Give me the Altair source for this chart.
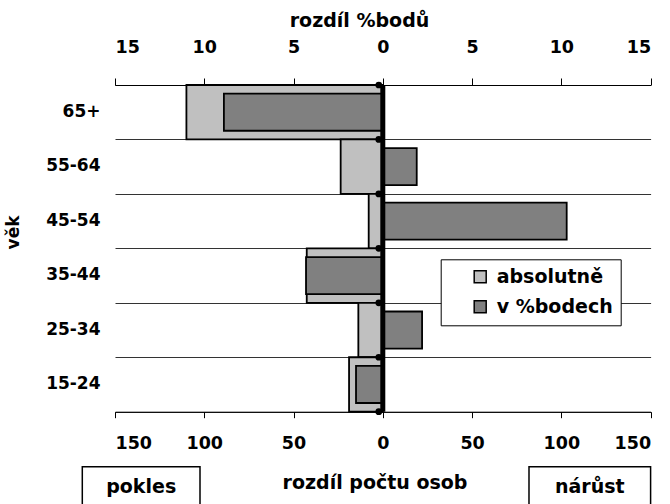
import altair as alt
import pandas as pd

# Age groups, top to bottom
vek = ["65+", "55-64", "45-54", "35-44", "25-34", "15-24"]
# Change in number of persons (bottom axis)
absolutne = [-110, -23.6, -7.9, -42.6, -13.7, -18.9]
# Change in percentage points (top axis)
v_bodech = [-8.9, 1.9, 10.3, -4.3, 2.2, -1.5]

serie = ["absolutně", "v %bodech"]
barvy = ["#C0C0C0", "#808080"]

abs_ticks = [-150, -100, -50, 0, 50, 100, 150]
pct_ticks = [-15, -10, -5, 0, 5, 10, 15]

FONT = "DejaVu Sans"
W, H = 535.6, 326.7

df = pd.DataFrame({"vek": vek, "absolutne": absolutne, "v_bodech": v_bodech})
nula = pd.DataFrame({"nula": [0]})

y_axis = alt.Axis(
    orient="left", title="věk", titleAngle=-90, titleX=-102, titleY=147,
    titleBaseline="middle", titleFont=FONT, titleFontSize=17, titleFontWeight="bold",
    titleColor="black",
    labelFont=FONT, labelFontSize=17, labelFontWeight="bold", labelColor="black",
    labelPadding=15, labelOffset=-1, ticks=False, domain=False,
    grid=True, tickBand="extent", gridColor="#333333", gridWidth=1,
)
y_scale = alt.Scale(paddingInner=0, paddingOuter=0)


def y_enc(band_pos=None):
    if band_pos is None:
        return alt.Y("vek:N", sort=vek, scale=y_scale, axis=y_axis)
    return alt.Y("vek:N", sort=vek, scale=y_scale, axis=y_axis, bandPosition=band_pos)


legend = alt.Legend(
    orient="none", legendX=325.7, legendY=174.3, title=None,
    symbolType="square", symbolSize=144, symbolStrokeColor="black",
    symbolStrokeWidth=1.5, labelFont=FONT, labelFontSize=19, labelFontWeight="bold",
    labelColor="black", padding=8, rowPadding=10, symbolOffset=22, labelOffset=7,
    strokeColor="black", fillColor="white",
    labelExpr="datum.label + '\u00a0\u00a0'",
)
color = alt.Color("serie:N", scale=alt.Scale(domain=serie, range=barvy), legend=legend)

abs_scale = alt.Scale(domain=[-150, 150], nice=False, zero=False)
pct_scale = alt.Scale(domain=[-15, 15], nice=False, zero=False)

light = alt.Chart(df).transform_calculate(serie="'absolutně'").mark_bar(
    stroke="black", strokeWidth=1.8
).encode(
    x=alt.X("absolutne:Q", scale=abs_scale, axis=alt.Axis(
        orient="bottom", values=abs_ticks, labelExpr="abs(datum.value)",
        title="rozdíl počtu osob", titleX=259.5, titleY=76.6, titleBaseline="alphabetic",
        titleFont=FONT, titleFontSize=19, titleFontWeight="bold", titleColor="black",
        labelFont=FONT, labelFontSize=17.5, labelFontWeight="bold", labelColor="black",
        labelBaseline="alphabetic", labelPadding=31, tickSize=6, tickColor="black",
        domainColor="black", grid=False,
    )),
    y=y_enc(),
    color=color,
)

dark = alt.Chart(df).transform_calculate(serie="'v %bodech'").mark_bar(
    stroke="black", strokeWidth=1.8, height=alt.RelativeBandSize(0.68)
).encode(
    x=alt.X("v_bodech:Q", scale=pct_scale, axis=alt.Axis(
        orient="top", values=pct_ticks, labelExpr="abs(datum.value)",
        title="rozdíl %bodů", titleX=244, titleY=-59, titleBaseline="alphabetic",
        titleFont=FONT, titleFontSize=19, titleFontWeight="bold", titleColor="black",
        labelFont=FONT, labelFontSize=17.5, labelFontWeight="bold", labelColor="black",
        labelBaseline="alphabetic", labelPadding=26, tickSize=7, tickColor="black",
        domainColor="black", grid=False,
    )),
    y=y_enc(),
    color=color,
)

zero_line = alt.Chart(nula).mark_rule(color="black", strokeWidth=5).encode(
    x=alt.X("nula:Q", scale=abs_scale, axis=None)
)

dots_top = alt.Chart(df).transform_calculate(nula="0").mark_circle(
    color="black", opacity=1, size=45, xOffset=-4
).encode(
    x=alt.X("nula:Q", scale=abs_scale, axis=None),
    y=y_enc(0),
)
dots_bottom = alt.Chart(df).transform_filter("datum.vek == '15-24'").transform_calculate(
    nula="0"
).mark_circle(color="black", opacity=1, size=45, xOffset=-4).encode(
    x=alt.X("nula:Q", scale=abs_scale, axis=None),
    y=y_enc(1),
)

# Direction boxes under the bottom axis
box_pokles = alt.Chart(nula).mark_rect(fill="white", stroke="black", strokeWidth=1.5).encode(
    x=alt.value(-32.7), x2=alt.value(85), y=alt.value(381.7), y2=alt.value(430)
)
box_narust = alt.Chart(nula).mark_rect(fill="white", stroke="black", strokeWidth=1.5).encode(
    x=alt.value(414), x2=alt.value(535.6), y=alt.value(381.7), y2=alt.value(430)
)
txt_style = dict(font=FONT, fontSize=19, fontWeight="bold", color="black",
                 align="center", baseline="alphabetic")
txt_pokles = alt.Chart(nula).mark_text(**txt_style).encode(
    x=alt.value(26.2), y=alt.value(408.3), text=alt.value("pokles")
)
txt_narust = alt.Chart(nula).mark_text(**txt_style).encode(
    x=alt.value(474.8), y=alt.value(408.3), text=alt.value("nárůst")
)

chart = alt.layer(
    light, dark, zero_line, dots_top, dots_bottom,
    box_pokles, box_narust, txt_pokles, txt_narust,
).resolve_scale(x="independent").properties(
    width=W, height=H,
    autosize=alt.AutoSizeParams(type="none"),
    padding={"left": 115, "top": 85, "right": 670 - 115 - W, "bottom": 504 - 85 - H},
    background="white",
).configure_view(stroke=None)

chart.save("out.html", embed_options={"renderer": "svg", "actions": False})
